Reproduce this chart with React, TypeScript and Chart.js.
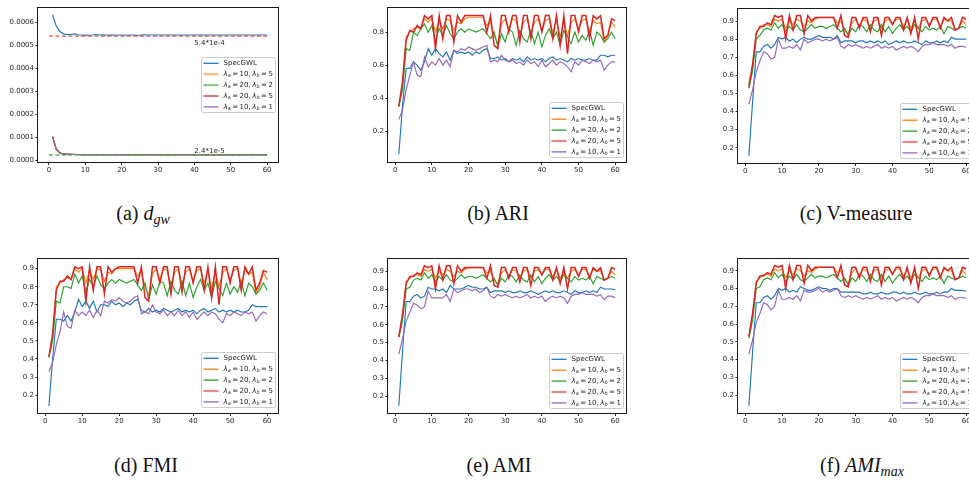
import React, { useEffect, useRef } from "react";
import { Chart, registerables } from "chart.js";
Chart.register(...registerables);

// ---------- shared data ----------
const epochs = [1,2,3,4,5,6,7,8,9,10,11,12,13,14,15,16,17,18,19,20,21,22,23,24,25,26,27,28,29,30,31,32,33,34,35,36,37,38,39,40,41,42,43,44,45,46,47,48,49,50,51,52,53,54,55,56,57,58,59,60];
const xTicks = [0, 10, 20, 30, 40, 50, 60];
const seriesLabels = ["SpecGWL", "λ_a = 10, λ_b = 5", "λ_a = 20, λ_b = 2", "λ_a = 20, λ_b = 5", "λ_a = 10, λ_b = 1"];
const seriesColors = ["#1f77b4", "#ff7f0e", "#2ca02c", "#d62728", "#9467bd"];
const captions = ["(a) ", "(b) ARI", "(c) V-measure", "(d) FMI", "(e) AMI", "(f) "];

// ---------- (a) d_gw ----------
const dgwTicks = [0, 0.0001, 0.0002, 0.0003, 0.0004, 0.0005, 0.0006];
const dgwRefHigh = 5.4e-4;
const dgwRefLow = 2.4e-5;
const dgwRefX = [0, 60];
const dgwNotes = ["5.4*1e-4", "2.4*1e-5"];
const dgwNoteX = 40;
const dgwSpec = [6.32e-4,5.85e-4,5.6e-4,5.5e-4,5.47e-4,5.47e-4,5.5e-4,5.46e-4,5.44e-4,5.45e-4,5.44e-4,5.45e-4,5.47e-4,5.45e-4,5.46e-4,5.44e-4,5.45e-4,5.44e-4,5.45e-4,5.45e-4,5.44e-4,5.45e-4,5.45e-4,5.44e-4,5.44e-4,5.46e-4,5.45e-4,5.45e-4,5.45e-4,5.45e-4,5.45e-4,5.45e-4,5.45e-4,5.45e-4,5.45e-4,5.45e-4,5.45e-4,5.45e-4,5.45e-4,5.45e-4,5.45e-4,5.45e-4,5.45e-4,5.45e-4,5.45e-4,5.45e-4,5.45e-4,5.45e-4,5.45e-4,5.45e-4,5.45e-4,5.45e-4,5.45e-4,5.45e-4,5.45e-4,5.45e-4,5.45e-4,5.45e-4,5.45e-4,5.45e-4];
const dgwA10B5 = [1.02e-4,4.9e-5,3.2e-5,2.8e-5,2.7e-5,2.65e-5,2.6e-5,2.6e-5,2.58e-5,2.57e-5,2.56e-5,2.55e-5,2.55e-5,2.54e-5,2.54e-5,2.53e-5,2.53e-5,2.53e-5,2.52e-5,2.52e-5,2.52e-5,2.52e-5,2.51e-5,2.51e-5,2.51e-5,2.51e-5,2.51e-5,2.5e-5,2.5e-5,2.5e-5,2.5e-5,2.5e-5,2.5e-5,2.5e-5,2.5e-5,2.5e-5,2.5e-5,2.5e-5,2.5e-5,2.5e-5,2.5e-5,2.5e-5,2.5e-5,2.5e-5,2.5e-5,2.5e-5,2.5e-5,2.5e-5,2.5e-5,2.5e-5,2.5e-5,2.5e-5,2.5e-5,2.5e-5,2.5e-5,2.5e-5,2.5e-5,2.5e-5,2.5e-5,2.5e-5];
const dgwA20B2 = [1.03e-4,5.0e-5,3.25e-5,2.8e-5,2.7e-5,2.65e-5,2.62e-5,2.6e-5,2.58e-5,2.57e-5,2.56e-5,2.55e-5,2.55e-5,2.54e-5,2.54e-5,2.53e-5,2.53e-5,2.53e-5,2.52e-5,2.52e-5,2.52e-5,2.52e-5,2.51e-5,2.51e-5,2.51e-5,2.51e-5,2.51e-5,2.5e-5,2.5e-5,2.5e-5,2.5e-5,2.5e-5,2.5e-5,2.5e-5,2.5e-5,2.5e-5,2.5e-5,2.5e-5,2.5e-5,2.5e-5,2.5e-5,2.5e-5,2.5e-5,2.5e-5,2.5e-5,2.5e-5,2.5e-5,2.5e-5,2.5e-5,2.5e-5,2.5e-5,2.5e-5,2.5e-5,2.5e-5,2.5e-5,2.5e-5,2.5e-5,2.5e-5,2.5e-5,2.5e-5];
const dgwA20B5 = [1.04e-4,5.0e-5,3.3e-5,2.85e-5,2.72e-5,2.66e-5,2.62e-5,2.6e-5,2.58e-5,2.57e-5,2.56e-5,2.55e-5,2.55e-5,2.54e-5,2.54e-5,2.53e-5,2.53e-5,2.53e-5,2.52e-5,2.52e-5,2.52e-5,2.52e-5,2.51e-5,2.51e-5,2.51e-5,2.51e-5,2.51e-5,2.5e-5,2.5e-5,2.5e-5,2.5e-5,2.5e-5,2.5e-5,2.5e-5,2.5e-5,2.5e-5,2.5e-5,2.5e-5,2.5e-5,2.5e-5,2.5e-5,2.5e-5,2.5e-5,2.5e-5,2.5e-5,2.5e-5,2.5e-5,2.5e-5,2.5e-5,2.5e-5,2.5e-5,2.5e-5,2.5e-5,2.5e-5,2.5e-5,2.5e-5,2.5e-5,2.5e-5,2.5e-5,2.5e-5];
const dgwA10B1 = [1.05e-4,5.1e-5,3.3e-5,2.85e-5,2.72e-5,2.66e-5,2.63e-5,2.6e-5,2.58e-5,2.57e-5,2.56e-5,2.55e-5,2.55e-5,2.54e-5,2.54e-5,2.53e-5,2.53e-5,2.53e-5,2.52e-5,2.52e-5,2.52e-5,2.52e-5,2.51e-5,2.51e-5,2.51e-5,2.51e-5,2.51e-5,2.5e-5,2.5e-5,2.5e-5,2.5e-5,2.5e-5,2.5e-5,2.5e-5,2.5e-5,2.5e-5,2.5e-5,2.5e-5,2.5e-5,2.5e-5,2.5e-5,2.5e-5,2.5e-5,2.5e-5,2.5e-5,2.5e-5,2.5e-5,2.5e-5,2.5e-5,2.5e-5,2.5e-5,2.5e-5,2.5e-5,2.5e-5,2.5e-5,2.5e-5,2.5e-5,2.5e-5,2.5e-5,2.5e-5];

// ---------- (b) ARI ----------
const ariTicks = [0.2, 0.4, 0.6, 0.8];
const ariSpec = [0.06,0.35,0.58,0.58,0.62,0.60,0.57,0.62,0.70,0.66,0.70,0.67,0.65,0.68,0.63,0.69,0.67,0.68,0.67,0.68,0.66,0.68,0.67,0.69,0.70,0.64,0.64,0.65,0.63,0.64,0.62,0.64,0.63,0.64,0.62,0.65,0.63,0.64,0.63,0.64,0.62,0.64,0.65,0.63,0.64,0.63,0.62,0.64,0.63,0.64,0.63,0.63,0.64,0.63,0.63,0.66,0.66,0.65,0.66,0.66];
const ariA10B5 = [0.35,0.48,0.77,0.80,0.82,0.83,0.82,0.88,0.86,0.88,0.80,0.87,0.82,0.88,0.87,0.81,0.86,0.85,0.88,0.89,0.89,0.89,0.89,0.89,0.84,0.86,0.78,0.73,0.85,0.88,0.82,0.88,0.87,0.78,0.86,0.88,0.79,0.86,0.88,0.81,0.87,0.88,0.80,0.87,0.77,0.86,0.78,0.86,0.88,0.82,0.87,0.88,0.80,0.87,0.85,0.86,0.74,0.78,0.86,0.83];
const ariA20B2 = [0.35,0.45,0.70,0.69,0.80,0.78,0.82,0.85,0.80,0.84,0.75,0.82,0.78,0.84,0.79,0.76,0.80,0.82,0.80,0.82,0.81,0.80,0.81,0.82,0.79,0.76,0.80,0.71,0.79,0.74,0.82,0.80,0.72,0.81,0.76,0.74,0.81,0.73,0.80,0.71,0.78,0.82,0.76,0.80,0.72,0.81,0.77,0.73,0.80,0.74,0.78,0.75,0.81,0.72,0.80,0.78,0.74,0.76,0.80,0.76];
const ariA20B5 = [0.35,0.50,0.75,0.81,0.80,0.84,0.82,0.90,0.88,0.90,0.70,0.90,0.76,0.90,0.90,0.74,0.90,0.86,0.90,0.90,0.90,0.90,0.90,0.90,0.80,0.90,0.72,0.70,0.90,0.90,0.80,0.90,0.90,0.74,0.90,0.90,0.76,0.90,0.90,0.80,0.90,0.90,0.76,0.90,0.72,0.90,0.67,0.90,0.90,0.80,0.90,0.90,0.76,0.90,0.88,0.90,0.76,0.78,0.88,0.87];
const ariA10B1 = [0.27,0.33,0.45,0.54,0.62,0.54,0.53,0.65,0.59,0.62,0.60,0.64,0.60,0.63,0.59,0.69,0.68,0.70,0.69,0.71,0.70,0.69,0.70,0.71,0.72,0.62,0.63,0.62,0.66,0.63,0.62,0.63,0.61,0.62,0.60,0.63,0.61,0.62,0.59,0.63,0.59,0.61,0.63,0.60,0.62,0.61,0.59,0.56,0.62,0.60,0.63,0.62,0.61,0.63,0.62,0.63,0.57,0.60,0.62,0.62];

// ---------- (c) V-measure ----------
const unitTicks = [0.2, 0.3, 0.4, 0.5, 0.6, 0.7, 0.8, 0.9];
const vmSpec = [0.155,0.45,0.73,0.73,0.76,0.77,0.75,0.77,0.81,0.80,0.81,0.79,0.80,0.78,0.80,0.81,0.80,0.80,0.81,0.82,0.81,0.81,0.81,0.80,0.82,0.78,0.79,0.79,0.79,0.78,0.79,0.79,0.78,0.79,0.78,0.79,0.78,0.79,0.77,0.78,0.79,0.78,0.79,0.78,0.78,0.79,0.78,0.77,0.79,0.78,0.78,0.79,0.78,0.79,0.78,0.81,0.80,0.80,0.80,0.80];
const vmA10B5 = [0.53,0.64,0.84,0.86,0.88,0.88,0.87,0.91,0.90,0.91,0.86,0.90,0.88,0.91,0.90,0.87,0.90,0.89,0.91,0.92,0.92,0.92,0.92,0.92,0.89,0.90,0.85,0.83,0.89,0.91,0.87,0.91,0.90,0.86,0.90,0.91,0.86,0.90,0.91,0.88,0.91,0.91,0.87,0.91,0.86,0.90,0.86,0.90,0.91,0.88,0.91,0.91,0.87,0.91,0.90,0.90,0.85,0.86,0.90,0.88];
const vmA20B2 = [0.53,0.62,0.80,0.82,0.85,0.86,0.85,0.89,0.86,0.88,0.84,0.87,0.85,0.88,0.85,0.84,0.86,0.88,0.86,0.87,0.87,0.86,0.87,0.88,0.86,0.84,0.86,0.82,0.86,0.84,0.88,0.87,0.84,0.88,0.85,0.84,0.88,0.84,0.87,0.83,0.86,0.88,0.85,0.87,0.84,0.88,0.86,0.84,0.87,0.85,0.86,0.85,0.87,0.83,0.87,0.86,0.85,0.86,0.87,0.86];
const vmA20B5 = [0.54,0.66,0.83,0.87,0.87,0.89,0.88,0.93,0.92,0.93,0.80,0.93,0.85,0.93,0.93,0.83,0.93,0.90,0.92,0.92,0.92,0.92,0.92,0.92,0.86,0.93,0.82,0.81,0.92,0.92,0.86,0.92,0.92,0.84,0.92,0.92,0.82,0.92,0.92,0.88,0.92,0.92,0.85,0.92,0.83,0.92,0.80,0.92,0.92,0.87,0.92,0.92,0.86,0.92,0.90,0.92,0.85,0.86,0.92,0.91];
const vmA10B1 = [0.44,0.52,0.62,0.68,0.73,0.72,0.69,0.70,0.80,0.75,0.75,0.76,0.75,0.77,0.74,0.80,0.78,0.79,0.80,0.80,0.79,0.80,0.79,0.80,0.81,0.76,0.75,0.77,0.76,0.77,0.76,0.75,0.76,0.75,0.76,0.77,0.75,0.76,0.75,0.76,0.74,0.75,0.76,0.75,0.76,0.75,0.73,0.76,0.77,0.77,0.78,0.77,0.77,0.77,0.76,0.77,0.75,0.76,0.76,0.755];

// ---------- (d) FMI ----------
const fmiSpec = [0.14,0.40,0.62,0.62,0.61,0.64,0.61,0.66,0.73,0.69,0.72,0.68,0.72,0.66,0.70,0.70,0.69,0.72,0.70,0.71,0.69,0.71,0.70,0.72,0.73,0.67,0.66,0.68,0.66,0.67,0.66,0.68,0.67,0.66,0.67,0.68,0.66,0.67,0.66,0.67,0.65,0.67,0.68,0.66,0.67,0.68,0.66,0.67,0.66,0.67,0.66,0.67,0.66,0.66,0.67,0.70,0.69,0.69,0.69,0.69];
const fmiA10B5 = [0.41,0.52,0.80,0.82,0.84,0.85,0.84,0.90,0.88,0.90,0.82,0.89,0.84,0.90,0.89,0.83,0.88,0.87,0.90,0.90,0.90,0.90,0.90,0.90,0.86,0.88,0.80,0.75,0.87,0.90,0.84,0.90,0.89,0.80,0.88,0.90,0.81,0.88,0.90,0.83,0.89,0.90,0.82,0.89,0.79,0.88,0.80,0.88,0.90,0.84,0.89,0.90,0.82,0.89,0.87,0.88,0.76,0.80,0.88,0.84];
const fmiA20B2 = [0.41,0.50,0.72,0.71,0.80,0.80,0.79,0.87,0.82,0.86,0.77,0.84,0.80,0.86,0.81,0.79,0.82,0.84,0.82,0.84,0.83,0.82,0.83,0.84,0.81,0.78,0.82,0.73,0.81,0.76,0.83,0.82,0.75,0.83,0.78,0.76,0.83,0.75,0.82,0.74,0.80,0.84,0.78,0.82,0.74,0.83,0.79,0.75,0.82,0.76,0.80,0.77,0.83,0.75,0.82,0.80,0.76,0.78,0.82,0.78];
const fmiA20B5 = [0.41,0.54,0.78,0.83,0.83,0.86,0.84,0.91,0.90,0.91,0.72,0.91,0.78,0.91,0.91,0.76,0.91,0.88,0.90,0.91,0.91,0.91,0.91,0.91,0.82,0.91,0.74,0.72,0.91,0.91,0.82,0.91,0.91,0.76,0.91,0.91,0.77,0.91,0.91,0.82,0.91,0.91,0.78,0.91,0.74,0.91,0.70,0.91,0.91,0.82,0.91,0.91,0.78,0.91,0.87,0.91,0.78,0.82,0.89,0.88];
const fmiA10B1 = [0.33,0.38,0.48,0.55,0.66,0.58,0.57,0.67,0.64,0.66,0.64,0.67,0.63,0.67,0.64,0.72,0.71,0.73,0.72,0.74,0.72,0.71,0.72,0.74,0.75,0.65,0.66,0.65,0.70,0.66,0.65,0.67,0.64,0.66,0.64,0.67,0.64,0.66,0.63,0.66,0.62,0.64,0.66,0.64,0.66,0.65,0.62,0.60,0.65,0.64,0.66,0.65,0.64,0.66,0.65,0.66,0.61,0.64,0.66,0.65];

// ---------- (e) AMI ----------
const amiSpec = [0.145,0.45,0.73,0.73,0.76,0.77,0.75,0.76,0.81,0.80,0.80,0.79,0.80,0.78,0.82,0.80,0.80,0.80,0.81,0.82,0.81,0.81,0.80,0.80,0.81,0.78,0.79,0.79,0.79,0.78,0.79,0.78,0.78,0.79,0.78,0.78,0.79,0.78,0.77,0.78,0.79,0.78,0.79,0.78,0.78,0.79,0.78,0.77,0.79,0.78,0.78,0.79,0.78,0.79,0.78,0.81,0.80,0.80,0.80,0.795];
const amiA10B5 = [0.53,0.64,0.84,0.86,0.88,0.88,0.87,0.91,0.90,0.91,0.86,0.90,0.88,0.91,0.90,0.87,0.90,0.89,0.91,0.92,0.92,0.92,0.92,0.92,0.89,0.90,0.85,0.83,0.89,0.91,0.87,0.91,0.90,0.86,0.90,0.91,0.86,0.90,0.91,0.88,0.91,0.91,0.87,0.91,0.86,0.90,0.86,0.90,0.91,0.88,0.91,0.91,0.87,0.91,0.90,0.90,0.85,0.86,0.90,0.88];
const amiA20B2 = [0.53,0.62,0.80,0.81,0.85,0.86,0.85,0.89,0.86,0.88,0.84,0.87,0.85,0.88,0.85,0.84,0.86,0.88,0.86,0.87,0.87,0.86,0.87,0.88,0.86,0.84,0.86,0.82,0.86,0.84,0.88,0.87,0.84,0.88,0.85,0.84,0.88,0.84,0.87,0.83,0.86,0.88,0.85,0.87,0.84,0.88,0.86,0.84,0.87,0.85,0.86,0.85,0.87,0.83,0.87,0.86,0.85,0.86,0.87,0.86];
const amiA20B5 = [0.53,0.66,0.83,0.87,0.87,0.89,0.88,0.93,0.92,0.93,0.80,0.93,0.85,0.93,0.93,0.83,0.93,0.90,0.92,0.92,0.92,0.92,0.92,0.92,0.86,0.93,0.82,0.81,0.92,0.92,0.86,0.92,0.92,0.84,0.92,0.92,0.82,0.92,0.92,0.88,0.92,0.92,0.85,0.92,0.83,0.92,0.80,0.92,0.92,0.87,0.92,0.92,0.86,0.92,0.90,0.92,0.85,0.86,0.92,0.91];
const amiA10B1 = [0.435,0.52,0.62,0.67,0.72,0.71,0.69,0.70,0.79,0.75,0.75,0.75,0.75,0.77,0.73,0.80,0.78,0.79,0.80,0.80,0.79,0.80,0.78,0.79,0.81,0.76,0.75,0.77,0.76,0.77,0.76,0.75,0.76,0.75,0.76,0.77,0.75,0.76,0.75,0.76,0.73,0.75,0.76,0.75,0.76,0.75,0.72,0.76,0.77,0.77,0.78,0.77,0.77,0.77,0.76,0.77,0.74,0.76,0.76,0.75];

// ---------- (f) AMI_max ----------
const amxSpec = [0.14,0.44,0.72,0.72,0.75,0.76,0.74,0.76,0.80,0.79,0.80,0.78,0.79,0.78,0.81,0.80,0.79,0.79,0.80,0.81,0.80,0.80,0.79,0.80,0.80,0.78,0.78,0.78,0.78,0.78,0.78,0.77,0.77,0.78,0.77,0.77,0.78,0.77,0.77,0.78,0.78,0.77,0.78,0.77,0.77,0.78,0.77,0.77,0.78,0.77,0.77,0.78,0.77,0.78,0.78,0.80,0.79,0.79,0.79,0.785];
const amxA10B5 = [0.53,0.64,0.84,0.86,0.88,0.88,0.87,0.91,0.90,0.91,0.86,0.90,0.88,0.91,0.90,0.87,0.90,0.89,0.91,0.92,0.92,0.92,0.92,0.92,0.89,0.90,0.85,0.83,0.89,0.91,0.87,0.91,0.90,0.86,0.90,0.91,0.86,0.90,0.91,0.88,0.91,0.91,0.87,0.91,0.86,0.90,0.86,0.90,0.91,0.88,0.91,0.91,0.87,0.91,0.90,0.90,0.85,0.86,0.90,0.88];
const amxA20B2 = [0.52,0.62,0.80,0.81,0.85,0.86,0.85,0.89,0.86,0.88,0.84,0.87,0.85,0.88,0.85,0.84,0.86,0.88,0.86,0.87,0.87,0.86,0.87,0.88,0.86,0.84,0.86,0.82,0.86,0.84,0.88,0.87,0.84,0.88,0.85,0.84,0.88,0.84,0.87,0.83,0.86,0.88,0.85,0.87,0.84,0.88,0.86,0.84,0.87,0.85,0.86,0.85,0.87,0.83,0.87,0.86,0.85,0.86,0.87,0.86];
const amxA20B5 = [0.53,0.66,0.83,0.87,0.87,0.89,0.88,0.93,0.92,0.93,0.80,0.93,0.85,0.93,0.93,0.83,0.93,0.90,0.92,0.92,0.92,0.92,0.92,0.92,0.86,0.93,0.82,0.81,0.92,0.92,0.86,0.92,0.92,0.84,0.92,0.92,0.82,0.92,0.92,0.88,0.92,0.92,0.85,0.92,0.83,0.92,0.80,0.92,0.92,0.87,0.92,0.92,0.86,0.92,0.90,0.92,0.85,0.86,0.92,0.91];
const amxA10B1 = [0.43,0.51,0.61,0.66,0.72,0.71,0.68,0.70,0.79,0.74,0.74,0.75,0.74,0.76,0.73,0.79,0.78,0.78,0.79,0.80,0.78,0.79,0.78,0.79,0.80,0.76,0.75,0.76,0.75,0.76,0.75,0.74,0.75,0.74,0.75,0.76,0.74,0.75,0.74,0.75,0.73,0.74,0.75,0.74,0.75,0.74,0.72,0.75,0.76,0.76,0.77,0.76,0.76,0.76,0.75,0.76,0.74,0.75,0.75,0.745];

// ---------- layout / style ----------
const AXW = 38;
const PADT = 4;
const PADR = 4;
const AXH = 14;
const TICK_FONT = { family: "DejaVu Sans", size: 7 };
const TICK_COLOR = "#262626";

type Panel = {
  left: number; top: number; width: number; height: number;
  xMin: number; xMax: number; yMin: number; yMax: number;
  yTicks: number[]; yDigits: number;
  series: number[][];
  legendLoc: "center" | "lower";
  legendBottom: number;
  kind: "dgw" | "score";
};

const panels: Panel[] = [
  { left: 38, top: 6, width: 240, height: 156, xMin: -3, xMax: 63, yMin: -6.5e-6, yMax: 6.635e-4, yTicks: dgwTicks, yDigits: 4,
    series: [dgwSpec, dgwA10B5, dgwA20B2, dgwA20B5, dgwA10B1], legendLoc: "center", legendBottom: 0, kind: "dgw" },
  { left: 388, top: 6, width: 238, height: 156, xMin: -1.95, xMax: 62.95, yMin: 0.013, yMax: 0.948, yTicks: ariTicks, yDigits: 1,
    series: [ariSpec, ariA10B5, ariA20B2, ariA20B5, ariA10B1], legendLoc: "lower", legendBottom: 5.5, kind: "score" },
  { left: 738, top: 6.5, width: 239, height: 156, xMin: -1.95, xMax: 62.95, yMin: 0.116, yMax: 0.968, yTicks: unitTicks, yDigits: 1,
    series: [vmSpec, vmA10B5, vmA20B2, vmA20B5, vmA10B1], legendLoc: "lower", legendBottom: 5.5, kind: "score" },
  { left: 38, top: 257, width: 240, height: 156, xMin: -1.95, xMax: 62.95, yMin: 0.101, yMax: 0.955, yTicks: unitTicks, yDigits: 1,
    series: [fmiSpec, fmiA10B5, fmiA20B2, fmiA20B5, fmiA10B1], legendLoc: "lower", legendBottom: 6.5, kind: "score" },
  { left: 388, top: 257, width: 238, height: 156, xMin: -1.95, xMax: 62.95, yMin: 0.105, yMax: 0.97, yTicks: unitTicks, yDigits: 1,
    series: [amiSpec, amiA10B5, amiA20B2, amiA20B5, amiA10B1], legendLoc: "lower", legendBottom: 5.5, kind: "score" },
  { left: 738, top: 257, width: 239, height: 156, xMin: -1.95, xMax: 62.95, yMin: 0.10, yMax: 0.968, yTicks: unitTicks, yDigits: 1,
    series: [amxSpec, amxA10B5, amxA20B2, amxA20B5, amxA10B1], legendLoc: "lower", legendBottom: 5.5, kind: "score" },
];

function drawMath(ctx: CanvasRenderingContext2D, text: string, x: number, y: number, size: number, draw: boolean): number {
  let cx = x;
  for (let i = 0; i < text.length; i++) {
    const c = text[i];
    if (c === "_") {
      const s = text[++i];
      ctx.font = `italic ${size * 0.7}px "DejaVu Sans"`;
      if (draw) ctx.fillText(s, cx, y + size * 0.28);
      cx += ctx.measureText(s).width;
      continue;
    }
    if (c === " ") { cx += size * 0.22; continue; }
    ctx.font = `${c === "λ" ? "italic " : ""}${size}px "DejaVu Sans"`;
    if (draw) ctx.fillText(c, cx, y);
    cx += ctx.measureText(c).width;
  }
  return cx - x;
}

function makePlugins(p: Panel) {
  const frame = {
    id: "frame",
    afterDatasetsDraw(chart: any) {
      const { ctx, chartArea: a } = chart;
      ctx.save();
      if (p.kind === "dgw") {
        const xs = chart.scales.x, ys = chart.scales.y;
        ctx.fillStyle = "#222";
        ctx.font = '7px "DejaVu Sans"';
        ctx.textAlign = "left";
        ctx.textBaseline = "top";
        ctx.fillText(dgwNotes[0], xs.getPixelForValue(dgwNoteX), ys.getPixelForValue(dgwRefHigh) + 3.5);
        ctx.textBaseline = "alphabetic";
        ctx.fillText(dgwNotes[1], xs.getPixelForValue(dgwNoteX), ys.getPixelForValue(dgwRefLow) - 1.5);
      }
      ctx.strokeStyle = "#1a1a1a";
      ctx.lineWidth = 1;
      const l = Math.round(a.left) - 0.5, t = Math.round(a.top) - 0.5;
      const r = Math.round(a.right) + 0.5, b = Math.round(a.bottom) + 0.5;
      ctx.strokeRect(l, t, r - l, b - t);
      ctx.restore();
    },
  };
  const legend = {
    id: "mplLegend",
    afterDraw(chart: any) {
      const { ctx, chartArea: a } = chart;
      const size = 7;
      ctx.save();
      ctx.textBaseline = "middle";
      ctx.textAlign = "left";
      let tw = 0;
      for (const s of seriesLabels) tw = Math.max(tw, drawMath(ctx, s, 0, 0, size, false));
      const w = Math.round(22 + tw + 3);
      const rowH = 10.9;
      const h = Math.round(11.5 + rowH * 4);
      const x = Math.round(a.right - 3.5 - w) + 0.5;
      const y = p.legendLoc === "center"
        ? Math.round((a.top + a.bottom) / 2 - h / 2) + 0.5
        : Math.round(a.bottom - p.legendBottom - h) + 0.5;
      ctx.beginPath();
      (ctx as any).roundRect(x, y, w, h, 2);
      ctx.fillStyle = "rgba(255,255,255,0.8)";
      ctx.fill();
      ctx.strokeStyle = "#cccccc";
      ctx.lineWidth = 1;
      ctx.stroke();
      seriesLabels.forEach((s, i) => {
        const cy = y + 5.8 + i * rowH;
        const pale = p.kind === "dgw" ? (i === 1 || i === 2) : i === 3;
        ctx.strokeStyle = seriesColors[i];
        ctx.globalAlpha = pale ? 0.55 : 1;
        ctx.lineWidth = pale ? 2.2 : 1.3;
        ctx.beginPath();
        ctx.moveTo(x + 2, cy);
        ctx.lineTo(x + 17, cy);
        ctx.stroke();
        ctx.globalAlpha = 1;
        ctx.fillStyle = "#222";
        drawMath(ctx, s, x + 22, cy, size, true);
      });
      ctx.restore();
    },
  };
  return [frame, legend];
}

function PanelChart({ p }: { p: Panel }) {
  const ref = useRef<HTMLCanvasElement>(null);
  const cw = AXW + p.width + PADR;
  const ch = PADT + p.height + AXH;
  useEffect(() => {
    if (!ref.current) return;
    const datasets: any[] = p.series.map((ys, i) => ({
      label: seriesLabels[i],
      data: ys.map((y, k) => ({ x: epochs[k], y })),
      borderColor: seriesColors[i],
      backgroundColor: seriesColors[i],
      borderWidth: p.kind === "score" && i === 3 ? 1.5 : 1.15,
      pointRadius: 0,
      tension: 0,
      fill: false,
      order: 10 - i,
    }));
    if (p.kind === "dgw") {
      datasets.push({
        label: "ref-high",
        data: dgwRefX.map((x) => ({ x, y: dgwRefHigh })),
        borderColor: "rgba(240,50,50,0.85)",
        borderWidth: 1.4,
        borderDash: [4, 2.5],
        pointRadius: 0,
        order: 1,
      });
      datasets.push({
        label: "ref-low",
        data: dgwRefX.map((x) => ({ x, y: dgwRefLow })),
        borderColor: "rgba(60,170,60,0.85)",
        borderWidth: 1.4,
        borderDash: [4, 2.5],
        pointRadius: 0,
        order: 2,
      });
    }
    const chart = new Chart(ref.current, {
      type: "line",
      data: { datasets },
      plugins: makePlugins(p) as any,
      options: {
        animation: false,
        responsive: false,
        maintainAspectRatio: false,
        devicePixelRatio: 1,
        layout: { padding: { left: 0, top: PADT, right: PADR, bottom: 0 } },
        plugins: { legend: { display: false }, tooltip: { enabled: false }, title: { display: false } },
        scales: {
          x: {
            type: "linear",
            min: p.xMin,
            max: p.xMax,
            afterBuildTicks: (s: any) => { s.ticks = xTicks.map((v) => ({ value: v })); },
            afterFit: (s: any) => { s.height = AXH; },
            grid: { drawOnChartArea: false, drawTicks: true, tickLength: 3, color: "#222", lineWidth: 1 },
            border: { display: false },
            ticks: { font: TICK_FONT, color: TICK_COLOR, padding: 1, maxRotation: 0, autoSkip: false, callback: (v: any) => String(v) },
          },
          y: {
            type: "linear",
            min: p.yMin,
            max: p.yMax,
            afterBuildTicks: (s: any) => { s.ticks = p.yTicks.map((v) => ({ value: v })); },
            afterFit: (s: any) => { s.width = AXW; },
            grid: { drawOnChartArea: false, drawTicks: true, tickLength: 2.5, color: "#222", lineWidth: 1 },
            border: { display: false },
            ticks: { font: TICK_FONT, color: TICK_COLOR, padding: 1.5, autoSkip: false, callback: (v: any) => Number(v).toFixed(p.yDigits) },
          },
        },
      } as any,
    });
    return () => chart.destroy();
  }, []);
  return (
    <canvas
      ref={ref}
      width={cw}
      height={ch}
      style={{ position: "absolute", left: p.left - AXW, top: p.top - PADT, width: cw, height: ch }}
    />
  );
}

const capStyle: React.CSSProperties = {
  position: "absolute",
  transform: "translateX(-50%)",
  fontFamily: '"Liberation Serif", "Times New Roman", serif',
  fontSize: 20,
  lineHeight: "20px",
  whiteSpace: "nowrap",
  color: "#111",
};
const subStyle: React.CSSProperties = { fontSize: "70%", verticalAlign: "-0.3em" };

export default function App() {
  return (
    <div style={{ position: "fixed", left: 0, top: 0, width: 969, height: 480, overflow: "hidden", background: "#fff" }}>
      {panels.map((p, i) => <PanelChart key={i} p={p} />)}
      <div style={{ ...capStyle, left: 143, top: 203 }}>
        {captions[0]}<i>d</i><span style={subStyle}><i>gw</i></span>
      </div>
      <div style={{ ...capStyle, left: 498, top: 203 }}>{captions[1]}</div>
      <div style={{ ...capStyle, left: 856, top: 203 }}>{captions[2]}</div>
      <div style={{ ...capStyle, left: 146, top: 455 }}>{captions[3]}</div>
      <div style={{ ...capStyle, left: 499, top: 455 }}>{captions[4]}</div>
      <div style={{ ...capStyle, left: 862, top: 455 }}>
        {captions[5]}<i>AMI</i><span style={subStyle}><i>max</i></span>
      </div>
    </div>
  );
}
